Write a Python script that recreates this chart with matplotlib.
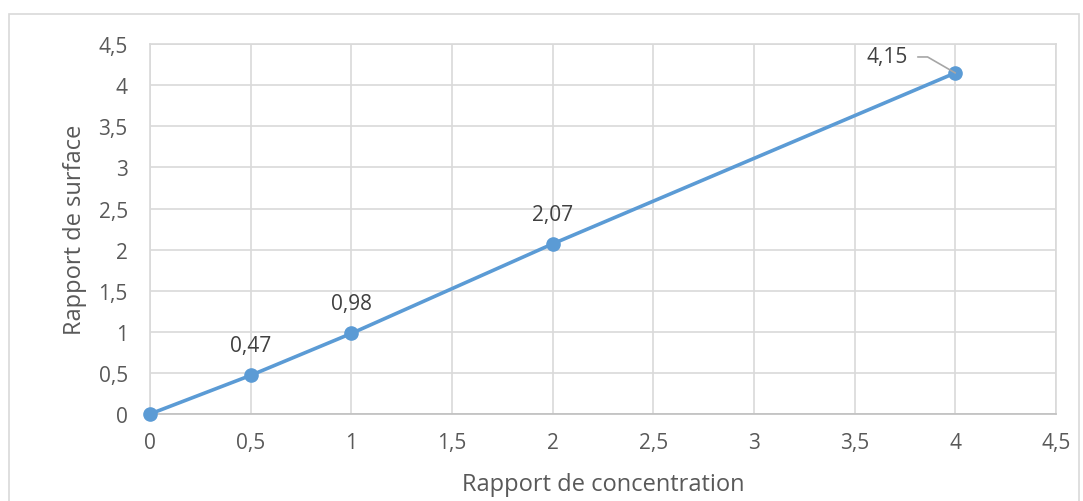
import matplotlib
matplotlib.use("Agg")
import matplotlib.pyplot as plt
from matplotlib.patches import Rectangle
from matplotlib.ticker import FuncFormatter

# data
concentration = [0, 0.5, 1, 2, 4]
surface = [0, 0.47, 0.98, 2.07, 4.15]
labels = ["", "0,47", "0,98", "2,07", "4,15"]

plt.rcParams['font.family'] = ['Open Sans', 'DejaVu Sans']

fig = plt.figure(figsize=(10.83, 5.02), dpi=100)
ax = fig.add_axes([0.1385, 0.1733, 0.975 - 0.1385, 0.910 - 0.1733])

blue = '#5B9BD5'
txt = '#404040'
ax.plot(concentration, surface, color=blue, lw=2.6, marker='o', ms=9.5, zorder=3, clip_on=False)

for x, y, t in zip(concentration, surface, labels):
    if not t or x == 4:
        continue
    ax.annotate(t, (x, y), xytext=(0, 21.5), textcoords='offset points', ha='center', va='center',
                fontsize=15, color=txt)

# last label sits to the left with a leader line
ax.annotate(labels[-1], (concentration[-1], surface[-1]), xytext=(-34, 11.5), textcoords='offset points',
            ha='right', va='center', fontsize=15, color=txt,
            arrowprops=dict(arrowstyle='-', color='#a6a6a6', lw=1.2,
                            connectionstyle='angle,angleA=0,angleB=150,rad=0', shrinkA=5, shrinkB=0))

fmt = FuncFormatter(lambda v, p: ('%g' % v).replace('.', ','))
ax.set_xlim(0, 4.5)
ax.set_ylim(0, 4.5)
ax.set_xticks([i * 0.5 for i in range(10)])
ax.set_yticks([i * 0.5 for i in range(10)])
ax.xaxis.set_major_formatter(fmt)
ax.yaxis.set_major_formatter(fmt)
ax.tick_params(length=0, labelsize=15, colors='#595959')
ax.tick_params(axis='x', pad=13)
ax.tick_params(axis='y', pad=16)
ax.grid(True, color='#d9d9d9', lw=1.2)
ax.set_axisbelow(True)
for s in ['top', 'right', 'left']:
    ax.spines[s].set_color('#d9d9d9')
    ax.spines[s].set_linewidth(1.2)
ax.spines['bottom'].set_color('#bfbfbf')
ax.spines['bottom'].set_linewidth(1.2)

ax.set_xlabel("Rapport de concentration", fontsize=17, color='#595959', va='center')
ax.set_ylabel("Rapport de surface", fontsize=17, color='#595959', va='center')
ax.xaxis.set_label_coords(0.5, -0.189)
ax.yaxis.set_label_coords(-0.0828, 0.5)

# outer chart border
fig.patches.append(Rectangle((9 / 1083, -0.01), 1070 / 1083, 1 - 15 / 502 + 0.01,
                             transform=fig.transFigure, fill=False, ec='#d9d9d9', lw=1.2))

fig.savefig("out.png", dpi=100)
